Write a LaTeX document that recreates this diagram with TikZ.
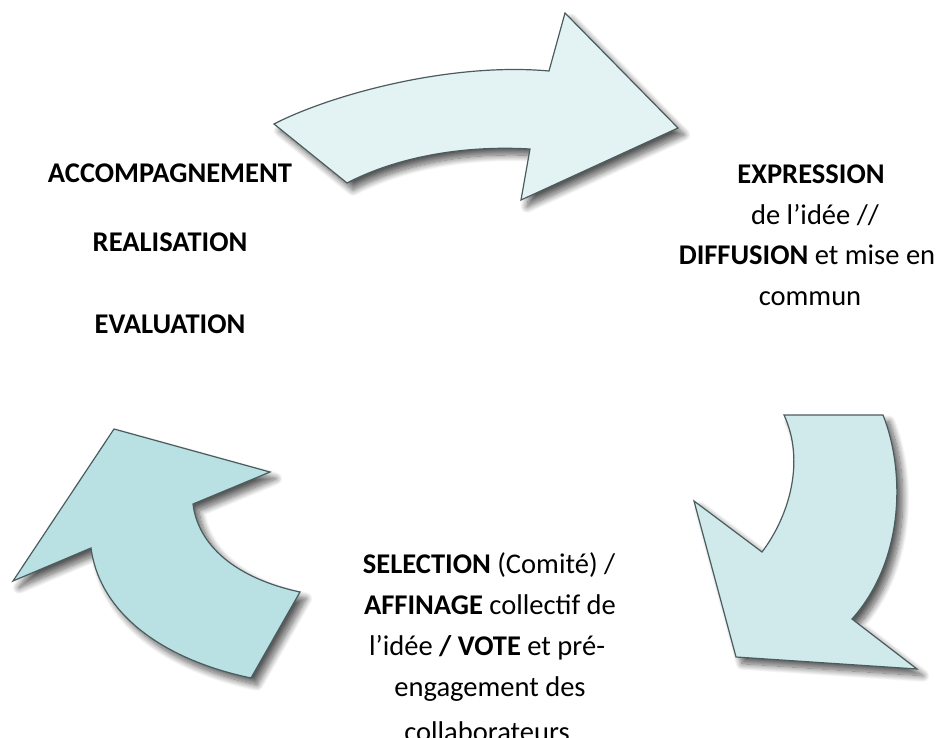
\documentclass[tikz,border=0pt]{standalone}
\usepackage{fontspec}
\setmainfont{Carlito}
\usetikzlibrary{shadows.blur}
\definecolor{arrline}{HTML}{4A5C5E}
\definecolor{topfill}{HTML}{E3F2F3}
\definecolor{rightfill}{HTML}{D0E9EB}
\definecolor{leftfill}{HTML}{B9E0E3}
\tikzset{
  arrowshape/.style={draw=arrline, line width=0.9pt, line join=miter,
    blur shadow={shadow xshift=4.5pt, shadow yshift=-5pt, shadow opacity=65,
      shadow blur radius=5pt, shadow blur steps=12}},
  txt/.style={inner sep=0pt, anchor=base, font=\fontsize{21.4}{30}\selectfont}
}
\begin{document}
\begin{tikzpicture}[x=0.75pt, y=-0.75pt]
\useasboundingbox (0,0) rectangle (946,738);
% top arrow
\path[arrowshape, fill=topfill]
  (274,124) .. controls (330,95) and (450,62) .. (549,71)
  -- (565,13) -- (678,128) -- (521,200) -- (530,149)
  .. controls (460,145) and (395,158) .. (347,183) -- cycle;
% right arrow
\path[arrowshape, fill=rightfill]
  (784,415) -- (883,415)
  .. controls (905,470) and (905,560) .. (852,619)
  -- (917,669) -- (736,657) -- (694,501) -- (762,552)
  .. controls (790,515) and (805,460) .. (784,415) -- cycle;
% left arrow
\path[arrowshape, fill=leftfill]
  (114,429) -- (270,472) -- (193,504)
  .. controls (198,545) and (235,578) .. (300,592)
  -- (251,678)
  .. controls (165,660) and (100,615) .. (91,548)
  -- (13,581) -- cycle;
% left texts
\node[txt] (l1) at (170,183) {\textbf{ACCOMPAGNEMENT}};
\node[txt] (l2) at (170,252) {\textbf{REALISATION}};
\node[txt] (l3) at (170,333) {\textbf{EVALUATION}};
% right texts
\node[txt] (r1) at (811,184) {\textbf{EXPRESSION}};
\node[txt] (r2) at (815,224) {de l’idée //};
\node[txt] (r3) at (807,264) {\textbf{DIFFUSION} et mise en};
\node[txt] (r4) at (810,305) {commun};
% bottom texts
\node[txt] (b1) at (489,573) {\textbf{SELECTION} (Comité) /};
\node[txt] (b2) at (490,614) {\textbf{AFFINAGE} collectif de};
\node[txt] (b3) at (487,655) {l’idée \textbf{/ VOTE} et pré-};
\node[txt] (b4) at (490,696) {engagement des};
\node[txt] (b5) at (487,741) {collaborateurs};
\end{tikzpicture}
\end{document}
